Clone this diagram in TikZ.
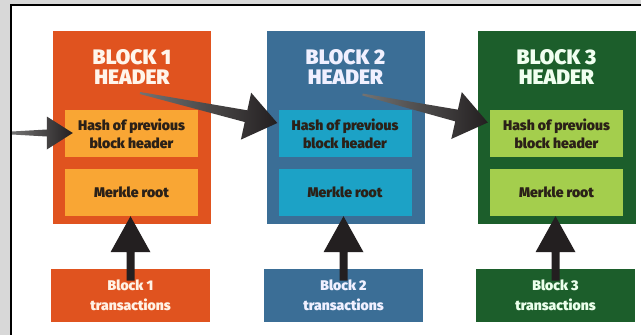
\documentclass[tikz,border=0pt]{standalone}
\usepackage{fontspec}
\setmainfont{Fira Sans}[BoldFont={Fira Sans Black}]
\usetikzlibrary{calc}
\definecolor{orA}{HTML}{E0531F}
\definecolor{orB}{HTML}{F9A634}
\definecolor{blA}{HTML}{3B6E96}
\definecolor{blB}{HTML}{1CA2C6}
\definecolor{grA}{HTML}{1C5E2B}
\definecolor{grB}{HTML}{A4CE4D}
\definecolor{inktext}{HTML}{2B2118}
\definecolor{arrowdark}{HTML}{231F20}
\definecolor{bggray}{HTML}{D8D8D8}
\newcommand\fatarrow[7][]{%
  \path ($(#3)!#7!(#2)$) coordinate (fabase);
  \path[#1] ($(#2)!#4!90:(#3)$) -- ($(fabase)!#5!90:(#3)$) -- ($(fabase)!#6!90:(#3)$) -- (#3)
    -- ($(fabase)!#6!-90:(#3)$) -- ($(fabase)!#5!-90:(#3)$) -- ($(#2)!#4!-90:(#3)$) -- cycle;}
\tikzset{
  blk/.style={fill=#1, draw=none, minimum width=158pt, minimum height=193pt, inner sep=0pt},
  hdr/.style={text=#1, align=center, inner sep=0pt, font=\fontsize{21}{20.5}\selectfont\bfseries},
  inbox/.style={fill=#1, draw=none, minimum width=133pt, minimum height=47pt, inner sep=0pt,
    align=center, text=inktext, font=\fontsize{14}{18}\selectfont\bfseries},
  trbox/.style={fill=#1, draw=none, minimum width=159pt, minimum height=53pt, inner sep=0pt,
    align=center, font=\fontsize{14}{20}\selectfont\bfseries},
  upfill/.style={fill=arrowdark},
  sidefill/.style={left color=black!55, right color=arrowdark},
}
\begin{document}
\begin{tikzpicture}[x=1pt,y=-1pt]
\useasboundingbox (0,0) rectangle (641,335);
\fill[bggray] (0,0) rectangle (641,335);
\fill[white] (10.8,4.8) rectangle (641,335);
\draw[line width=1.6pt, black] (10.8,335) |- (641,4.8);
% blocks
\node[blk=orA] (b1) at (132,127.5) {};
\node[blk=blA] (b2) at (345.5,127.5) {};
\node[blk=grA] (b3) at (556.5,127.5) {};
\node[hdr=orange!8] (l1) at (132,67) {BLOCK 1\\HEADER};
\node[hdr=blue!6] (l2) at (345.5,67) {BLOCK 2\\HEADER};
\node[hdr=green!6] (l3) at (556.5,67) {BLOCK 3\\HEADER};
\node[inbox=orB] (h1) at (131.5,133.5) {Hash of previous\\block header};
\node[inbox=blB] (h2) at (345,133.5) {Hash of previous\\block header};
\node[inbox=grB] (h3) at (556.5,133.5) {Hash of previous\\block header};
\node[inbox=orB] (m1) at (131.5,192.5) {Merkle root};
\node[inbox=blB] (m2) at (345,192.5) {Merkle root};
\node[inbox=grB] (m3) at (556.5,192.5) {Merkle root};
\node[trbox=orA, text=orange!10] (t1) at (130.5,295.5) {Block 1\\transactions};
\node[trbox=blA, text=blue!6] (t2) at (343.5,295.5) {Block 2\\transactions};
\node[trbox=grA, text=green!8] (t3) at (555.5,295.5) {Block 3\\transactions};
% connectors
\coordinate (in0) at (12,133);
\coordinate (s1) at ($(h1.west)+(8,-0.5)$);
\fatarrow[sidefill]{in0}{s1}{1.5pt}{3.5pt}{16.5pt}{26pt}
\coordinate (s2a) at ($(b1.center)+(8,-34.5)$);
\coordinate (s2b) at ($(h2.west)+(-1,-10.5)$);
\fatarrow[sidefill]{s2a}{s2b}{1pt}{6pt}{24pt}{32pt}
\coordinate (s3a) at ($(b2.center)+(17,-33)$);
\coordinate (s3b) at ($(h3.west)+(-2,-11)$);
\fatarrow[sidefill]{s3a}{s3b}{1pt}{6pt}{24pt}{32pt}
\foreach \i in {1,2,3}{
  \coordinate (u\i a) at ($(t\i.center)+(0,-15)$);
  \coordinate (u\i b) at (t\i.center |- m\i.south);
  \fatarrow[upfill]{u\i a}{u\i b}{4pt}{4pt}{20pt}{36pt}
}
\end{tikzpicture}
\end{document}
